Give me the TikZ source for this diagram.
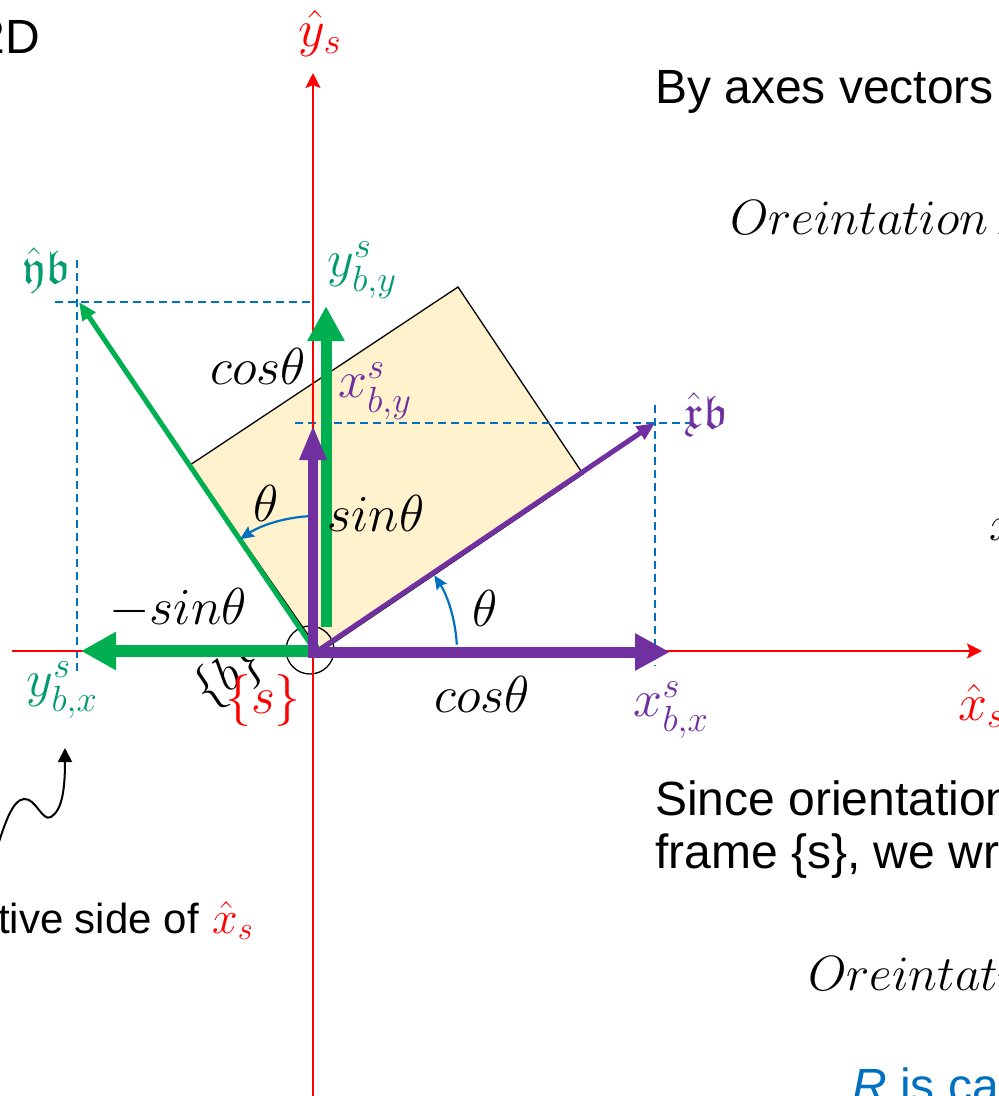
\RequirePackage{fix-cm}
\documentclass[tikz,border=0pt]{standalone}
\usepackage{amsmath,amssymb}
\usepackage{fontspec}
\newfontfamily\arial{Liberation Sans}
\usetikzlibrary{arrows.meta,calc}
\definecolor{cred}{RGB}{255,0,0}
\definecolor{cgreen}{RGB}{0,176,80}
\definecolor{cteal}{RGB}{0,155,110}
\definecolor{cpurple}{RGB}{112,48,160}
\definecolor{cblue}{RGB}{0,112,192}
\definecolor{cbox}{RGB}{255,242,204}
\tikzset{
  mathlbl/.style={inner sep=0pt, font=\fontsize{52}{56}\selectfont},
  mathtxt/.style={inner sep=0pt, font=\fontsize{49.5}{54}\selectfont},
  fraklbl/.style={inner sep=0pt, font=\fontsize{24.88}{26}\selectfont},
  sanstxt/.style={inner sep=0pt, font=\arial\fontsize{48}{54}\selectfont},
  dashline/.style={cblue, line width=1.5pt, dash pattern=on 8pt off 5pt},
  axisline/.style={cred, line width=2.2pt, -{Stealth[length=15pt,width=15pt,inset=3pt]}},
  thinvec/.style={line width=5pt, -{Triangle[length=18pt,width=15pt]}},
  bigvec/.style={line width=11pt, -{Triangle[length=35pt,width=35pt]}},
  anglearc/.style={cblue, line width=2.2pt, -{Stealth[length=14pt,width=12pt,inset=2pt]}},
}
\begin{document}
\begin{tikzpicture}[x=1pt,y=-1pt]
\useasboundingbox (0,0) rectangle (999,1096);
\clip (0,0) rectangle (999,1096);
% key points
\coordinate (O) at (316,652);
\coordinate (xbtip) at (655,423);
\coordinate (ybtip) at (79,302);
\coordinate (b0) at (320,652);
\coordinate (b1) at (583,474);
\coordinate (b2) at (458,287);
\coordinate (b3) at (190,465);
% body box
\draw[fill=cbox, line width=1.3pt] (b0) -- (b1) -- (b2) -- (b3) -- cycle;
% projection dashes
\coordinate (dy0) at (55,302);  \coordinate (dy1) at (310,302);
\coordinate (dv0) at (77,260);  \coordinate (dv1) at (77,676);
\coordinate (dx0) at (295,423); \coordinate (dx1) at (690,423);
\coordinate (dw0) at (655,405); \coordinate (dw1) at (655,666);
\draw[dashline] (dy0) -- (dy1);
\draw[dashline] (dv0) -- (dv1);
\draw[dashline] (dx0) -- (dx1);
\draw[dashline] (dw0) -- (dw1);
% frame {b} label (partly under the vectors)
\node[mathtxt, rotate=34] (lfb) at (229,677) {$\{b\}$};
% origin circle
\node[draw, circle, line width=1.3pt, minimum size=48pt, inner sep=0pt] (oc) at (310,650) {};
% frame {s} axes
\coordinate (ax0) at (12,651);  \coordinate (ax1) at (982,651);
\coordinate (ay0) at (313,1100); \coordinate (ay1) at (313,73);
\draw[axisline] (ax0) -- (ax1);
\draw[axisline] (ay0) -- (ay1);
% frame {b} axes
\draw[thinvec, cpurple] (O) -- (xbtip);
\draw[thinvec, cgreen] (O) -- (ybtip);
% components
\coordinate (gh0) at (319,651); \coordinate (ghtip) at (81,651);
\coordinate (gv0) at (326,627); \coordinate (gvtip) at (326,306);
\coordinate (ph0) at (308,652); \coordinate (phtip) at (670,652);
\coordinate (pv0) at (313,658); \coordinate (pvtip) at (313,425);
\draw[bigvec, cgreen, line width=12pt, -{Triangle[length=35pt,width=36pt]}] (gh0) -- (ghtip);
\draw[bigvec, cgreen] (gv0) -- (gvtip);
\draw[bigvec, cpurple] (ph0) -- (phtip);
\draw[bigvec, cpurple, line width=10pt, -{Triangle[length=35pt,width=25pt]}] (pv0) -- (pvtip);
% angle arcs
\draw[anglearc] ($(O)+(-3:141)$) arc[start angle=-3, end angle=-33, radius=141];
\draw[anglearc] ($(O)+(-93.4:136)$) arc[start angle=-93.4, end angle=-124, radius=136];
% labels
\node[mathlbl, text=cred] (lys) at (320,33) {$\hat{y}_s$};
\node[mathlbl, text=cred, anchor=west] (lxs) at (958,706) {$\hat{x}_s$};
\node[fraklbl, text=cteal] (lyb) at (46,270) {\scalebox{1.9}{$\hat{\mathfrak{y}}\mathfrak{b}$}};
\node[fraklbl, text=cpurple] (lxb) at (706,415) {\scalebox{1.9}{$\hat{\mathfrak{x}}\mathfrak{b}$}};
\node[mathlbl, text=cteal] (lyby) at (362,270) {$y^{s}_{b,y}$};
\node[mathlbl] (lcos1) at (258,366) {$cos\theta$};
\node[mathlbl, text=cpurple] (lxby) at (375,391) {$x^{s}_{b,y}$};
\node[mathlbl] (lth1) at (266,503) {$\theta$};
\node[mathlbl] (lsin) at (376,513) {$sin\theta$};
\node[mathlbl] (lmsin) at (178,609) {$-sin\theta$};
\node[mathlbl] (lth2) at (485,608) {$\theta$};
\node[mathlbl] (lcos2) at (482,694) {$cos\theta$};
\node[mathlbl, text=cteal] (lybx) at (62,690) {$y^{s}_{b,x}$};
\node[mathlbl, text=cpurple] (lxbx) at (671,710) {$x^{s}_{b,x}$};
\node[mathlbl, text=cred] (lfs) at (263,700) {$\{s\}$};
% slide text
\node[sanstxt, anchor=base east] (t2d) at (40,53) {2D};
\node[sanstxt, anchor=base west] (tby) at (655,103) {By axes vectors};
\node[mathtxt, anchor=base west] (tor1) at (730,234) {$Oreintation\,R$};
\node[mathtxt, anchor=base west] (tx) at (989,540) {$x$};
\node[sanstxt, anchor=base west] (tsince) at (655,815) {Since orientation};
\node[sanstxt, anchor=base west] (tframe) at (655,868) {frame \{s\}, we write};
\node[mathtxt, anchor=base west] (tor2) at (808,990) {$Oreintation$};
\node[sanstxt, text=cblue, anchor=base west] (tR) at (852,1102) {\textit{R} is called};
\node[inner sep=0pt, font=\arial\fontsize{42}{48}\selectfont, anchor=base east] (tneg) at (199,933) {negative side of};
\node[inner sep=0pt, font=\fontsize{46}{50}\selectfont, text=cred, anchor=base west] (tnegx) at (212,933) {$\hat{x}_s$};
% wavy pointer
\coordinate (w0) at (-6,858);
\coordinate (w1) at (24,799);
\coordinate (w2) at (51,817);
\coordinate (w3) at (65,748);
\draw[line width=2pt, -{Triangle[length=14pt,width=14pt]}] (w0) .. controls (4,825) and (12,800) .. (w1) .. controls (36,798) and (42,822) .. (w2) .. controls (62,810) and (65,790) .. (w3);
\end{tikzpicture}
\end{document}
